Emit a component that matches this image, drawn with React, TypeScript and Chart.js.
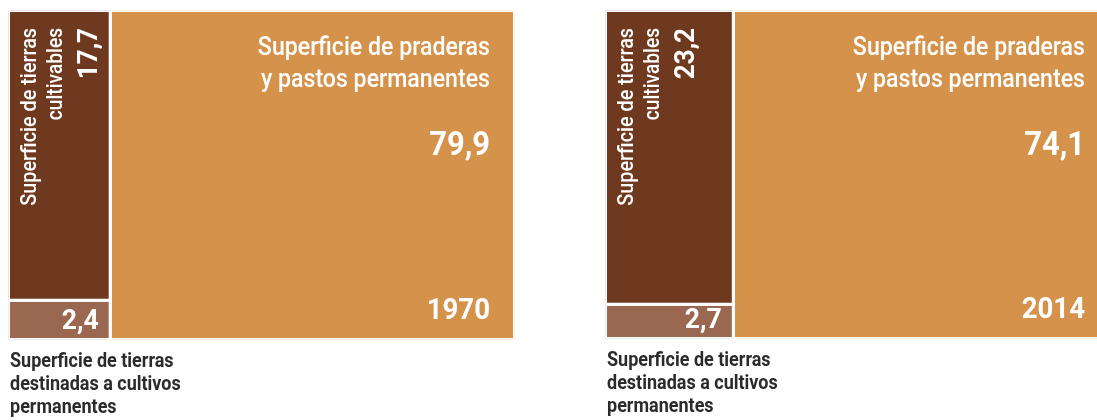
import React, { useEffect, useRef } from "react";
import { Chart, registerables } from "chart.js";

Chart.register(...registerables);

// ---- data ----
const YEARS = ["1970", "2014"];
const CULTIVABLE = [17.7, 23.2];
const PERMANENT_CROPS = [2.4, 2.7];
const PASTURES = [79.9, 74.1];
const LABEL_CULTIVABLE = ["Superficie de tierras", "cultivables"];
const LABEL_PASTURES = ["Superficie de praderas", "y pastos permanentes"];
const LABEL_CROPS = ["Superficie de tierras", "destinadas a cultivos", "permanentes"];

// ---- style ----
const COLOR_CULT = "#6f3920";
const COLOR_CROPS = "#9a6850";
const COLOR_PAST = "#d5924b";
const CAPTION_COLOR = "#2b2b2b";
const FONT = "Roboto, 'Liberation Sans', sans-serif";

const PANELS = [
  { left: 0, width: 540, pad: { left: 8.5, top: 10.5, right: 25.5, bottom: 80.5 }, textInset: 23 },
  { left: 597, width: 502, pad: { left: 8.5, top: 10.5, right: 0, bottom: 81.5 }, textInset: 12.5 },
];

const fmt = (v: number) => v.toFixed(1).replace(".", ",");

const rect = (x0: number, x1: number, y0: number, y1: number) => [
  { x: x0, y: y0 },
  { x: x1, y: y0 },
  { x: x1, y: y1 },
  { x: x0, y: y1 },
  { x: x0, y: y0 },
];

function drawText(
  ctx: CanvasRenderingContext2D,
  s: string,
  x: number,
  y: number,
  font: string,
  align: CanvasTextAlign,
  sx: number,
  color: string,
  rotate = 0
) {
  ctx.save();
  ctx.translate(x, y);
  if (rotate) ctx.rotate(rotate);
  ctx.scale(sx, 1);
  ctx.font = font;
  ctx.textAlign = align;
  ctx.textBaseline = "alphabetic";
  ctx.fillStyle = color;
  ctx.fillText(s, 0, 0);
  ctx.restore();
}

function Panel({ idx }: { idx: number }) {
  const ref = useRef<HTMLCanvasElement | null>(null);
  const p = PANELS[idx];
  useEffect(() => {
    const cult = CULTIVABLE[idx];
    const crops = PERMANENT_CROPS[idx];
    const past = PASTURES[idx];
    const total = cult + crops + past;
    const colW = cult + crops;
    const split = (crops / colW) * total;

    const ds = (data: any[], color: string) => ({
      data,
      showLine: true,
      fill: "shape",
      backgroundColor: color,
      borderColor: "#ffffff",
      borderWidth: 3,
      pointRadius: 0,
      pointHoverRadius: 0,
      tension: 0,
    });

    const labels = {
      id: "treemapLabels",
      afterDatasetsDraw(chart: any) {
        const ctx = chart.ctx as CanvasRenderingContext2D;
        const xs = chart.scales.x;
        const ys = chart.scales.y;
        const bw = 1.5;
        const colLeft = xs.getPixelForValue(0) + bw;
        const colRight = xs.getPixelForValue(colW) - bw;
        const top = ys.getPixelForValue(total) + bw;
        const bottom = ys.getPixelForValue(0) - bw;
        const pastRight = xs.getPixelForValue(total) - bw;
        const white = "#ffffff";

        // pastures
        const rx = pastRight - p.textInset;
        drawText(ctx, LABEL_PASTURES[0], rx, top + 43, `500 26px ${FONT}`, "right", 0.89, white);
        drawText(ctx, LABEL_PASTURES[1], rx, top + 75, `500 26px ${FONT}`, "right", 0.89, white);
        drawText(ctx, fmt(past), rx, top + 143, `700 34px ${FONT}`, "right", 0.91, white);
        drawText(ctx, YEARS[idx], rx, bottom - 19, `700 30px ${FONT}`, "right", 0.92, white);

        // cultivable (rotated)
        const rot = -Math.PI / 2;
        drawText(ctx, LABEL_CULTIVABLE[0], colLeft + 26, top + 16, `500 22px ${FONT}`, "right", 0.9, white, rot);
        drawText(ctx, LABEL_CULTIVABLE[1], colLeft + 52, top + 16, `500 22px ${FONT}`, "right", 0.87, white, rot);
        drawText(ctx, fmt(cult), colLeft + 87, top + 16, `700 28px ${FONT}`, "right", 0.93, white, rot);

        // permanent crops
        drawText(ctx, fmt(crops), colRight - 10, bottom - 9, `700 28px ${FONT}`, "right", 0.95, white);

        // caption
        LABEL_CROPS.forEach((t, i) => {
          drawText(ctx, t, colLeft, bottom + 29 + i * 23, `700 20px ${FONT}`, "left", 0.9, CAPTION_COLOR);
        });
      },
    };

    const chart = new Chart(ref.current as HTMLCanvasElement, {
      type: "scatter",
      data: {
        datasets: [
          ds(rect(0, colW, split, total), COLOR_CULT),
          ds(rect(0, colW, 0, split), COLOR_CROPS),
          ds(rect(colW, total, 0, total), COLOR_PAST),
        ] as any,
      },
      options: {
        animation: false,
        responsive: false,
        devicePixelRatio: 1,
        layout: { padding: p.pad },
        scales: {
          x: { type: "linear", min: 0, max: total, display: false },
          y: { type: "linear", min: 0, max: total, display: false },
        },
        plugins: { legend: { display: false }, tooltip: { enabled: false } },
        events: [],
      } as any,
      plugins: [labels],
    });
    return () => chart.destroy();
  }, [idx]);

  return (
    <canvas
      ref={ref}
      width={p.width}
      height={420}
      style={{ position: "absolute", left: p.left, top: 0, width: p.width, height: 420 }}
    />
  );
}

export default function App() {
  return (
    <div
      style={{
        position: "absolute",
        left: 0,
        top: 0,
        width: 1097,
        height: 420,
        overflow: "hidden",
        background: "#ffffff",
      }}
    >
      <Panel idx={0} />
      <Panel idx={1} />
    </div>
  );
}
